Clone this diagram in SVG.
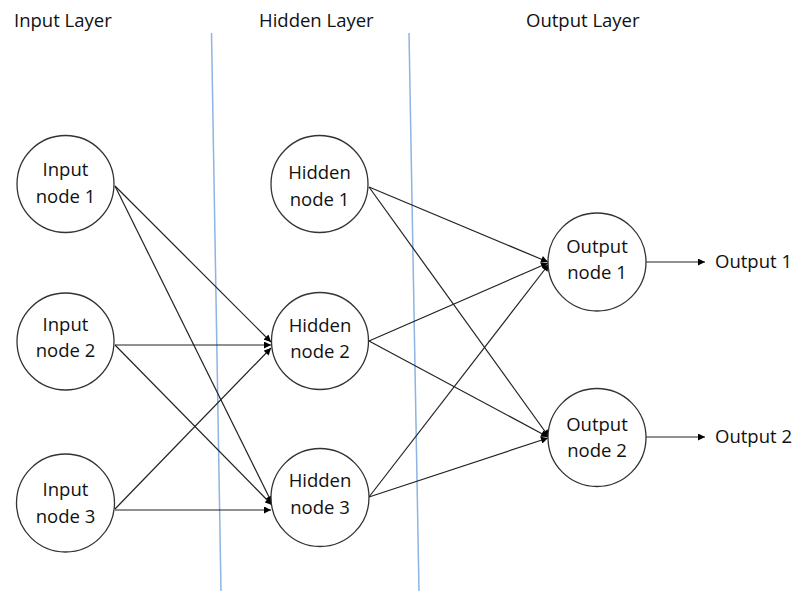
<svg xmlns="http://www.w3.org/2000/svg" width="796" height="591" viewBox="0 0 796 591">
<defs>
<marker id="arr" viewBox="0 0 10 10" refX="10" refY="5" markerWidth="8" markerHeight="7" markerUnits="userSpaceOnUse" orient="auto">
<path d="M0,0 L10,5 L0,10 z" fill="#000"/>
</marker>
<style>
.n{fill:#fff;stroke:#333;stroke-width:1.3}
.t{font-family:"Open Sans","Liberation Sans",sans-serif;font-size:18.5px;fill:#111;text-anchor:middle}
.h{font-family:"Open Sans","Liberation Sans",sans-serif;font-size:18.5px;fill:#111}
.c{stroke:#222;stroke-width:1.2;fill:none;marker-end:url(#arr)}
.b{stroke:#8db4e2;stroke-width:1.5}
</style>
</defs>
<rect width="796" height="591" fill="#fff"/>
<g id="headers">
<text class="h" x="14" y="27">Input Layer</text>
<text class="h" x="259" y="27">Hidden Layer</text>
<text class="h" x="526" y="27">Output Layer</text>
</g>
<g id="separators">
<line class="b" x1="211.5" y1="33" x2="221" y2="591"/>
<line class="b" x1="409" y1="33" x2="419" y2="591"/>
</g>
<g id="connectors">
<line class="c" x1="115" y1="186" x2="271" y2="342"/>
<line class="c" x1="115" y1="186" x2="272" y2="503"/>
<line class="c" x1="115" y1="345" x2="271" y2="345"/>
<line class="c" x1="115" y1="345" x2="272" y2="505"/>
<line class="c" x1="115" y1="509" x2="271" y2="348"/>
<line class="c" x1="115" y1="510" x2="271" y2="510"/>
<line class="c" x1="369" y1="187" x2="548" y2="262"/>
<line class="c" x1="369" y1="187" x2="549" y2="437"/>
<line class="c" x1="369" y1="341" x2="548" y2="263"/>
<line class="c" x1="369" y1="341" x2="548" y2="437"/>
<line class="c" x1="369" y1="497" x2="549" y2="264"/>
<line class="c" x1="369" y1="497" x2="548" y2="438"/>
<line class="c" x1="646" y1="262" x2="705" y2="262"/>
<line class="c" x1="646" y1="437" x2="705" y2="437"/>
</g>
<g id="input1"><circle class="n" cx="65.5" cy="184" r="48.5"/><text class="t" x="65.5" y="176">Input</text><text class="t" x="65.5" y="203">node 1</text></g>
<g id="input2"><circle class="n" cx="65.5" cy="341.5" r="48.5"/><text class="t" x="65.5" y="331">Input</text><text class="t" x="65.5" y="357">node 2</text></g>
<g id="input3"><circle class="n" cx="65.5" cy="503" r="49"/><text class="t" x="65.5" y="496">Input</text><text class="t" x="65.5" y="523">node 3</text></g>
<g id="hidden1"><circle class="n" cx="319.5" cy="184" r="48.5"/><text class="t" x="319.5" y="179">Hidden</text><text class="t" x="319.5" y="206">node 1</text></g>
<g id="hidden2"><circle class="n" cx="320" cy="341" r="48.5"/><text class="t" x="320" y="332">Hidden</text><text class="t" x="320" y="358">node 2</text></g>
<g id="hidden3"><circle class="n" cx="320" cy="497.5" r="49"/><text class="t" x="320" y="487">Hidden</text><text class="t" x="320" y="514">node 3</text></g>
<g id="output1"><circle class="n" cx="597" cy="262" r="49"/><text class="t" x="597" y="253">Output</text><text class="t" x="597" y="279">node 1</text></g>
<g id="output2"><circle class="n" cx="597" cy="437.5" r="49"/><text class="t" x="597" y="431">Output</text><text class="t" x="597" y="457">node 2</text></g>
<g id="outlabels">
<text class="h" x="715" y="268">Output 1</text>
<text class="h" x="715" y="443">Output 2</text>
</g>
</svg>
